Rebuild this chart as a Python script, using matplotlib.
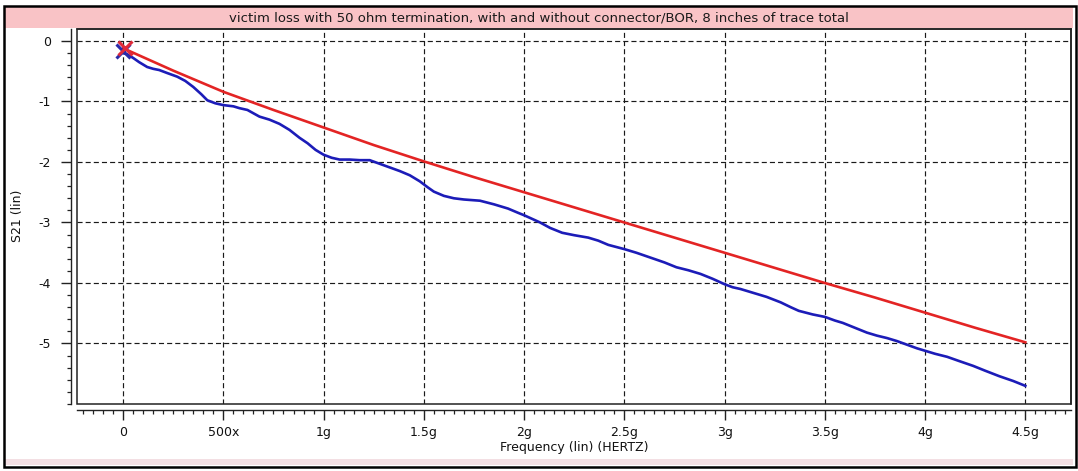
import matplotlib
matplotlib.use("Agg")
import matplotlib.pyplot as plt
from matplotlib.patches import Rectangle
from matplotlib.ticker import MultipleLocator

# Frequency in GHz, S21 (linear scale axis values)
freq_with = [0.00, 0.02, 0.05, 0.08, 0.12, 0.15, 0.18, 0.22, 0.27, 0.31, 0.35, 0.39,
             0.42, 0.46, 0.50, 0.55, 0.58, 0.62, 0.68, 0.73, 0.78, 0.83, 0.88, 0.92,
             0.96, 1.00, 1.04, 1.08, 1.13, 1.18, 1.23, 1.28, 1.33, 1.38, 1.43, 1.48,
             1.52, 1.55, 1.60, 1.65, 1.70, 1.78, 1.85, 1.92, 1.97, 2.00, 2.04, 2.08,
             2.13, 2.19, 2.25, 2.32, 2.37, 2.42, 2.50, 2.56, 2.63, 2.70, 2.76, 2.82,
             2.88, 2.94, 3.00, 3.04, 3.08, 3.14, 3.21, 3.28, 3.33, 3.37, 3.44, 3.50,
             3.55, 3.59, 3.65, 3.71, 3.76, 3.81, 3.86, 3.91, 3.96, 4.00, 4.05, 4.11,
             4.17, 4.24, 4.30, 4.37, 4.44, 4.50]
s21_with = [-0.20, -0.22, -0.28, -0.35, -0.43, -0.46, -0.48, -0.53, -0.59, -0.66, -0.76, -0.88,
            -0.98, -1.03, -1.06, -1.08, -1.11, -1.14, -1.25, -1.30, -1.37, -1.47, -1.60, -1.69,
            -1.80, -1.88, -1.93, -1.96, -1.96, -1.97, -1.97, -2.03, -2.09, -2.15, -2.22, -2.32,
            -2.42, -2.49, -2.56, -2.60, -2.62, -2.64, -2.70, -2.77, -2.84, -2.88, -2.94, -3.00,
            -3.09, -3.17, -3.21, -3.25, -3.30, -3.37, -3.44, -3.50, -3.58, -3.66, -3.74, -3.79,
            -3.85, -3.93, -4.02, -4.07, -4.10, -4.16, -4.23, -4.32, -4.40, -4.46, -4.52, -4.56,
            -4.62, -4.66, -4.74, -4.82, -4.87, -4.91, -4.96, -5.02, -5.08, -5.12, -5.17, -5.22,
            -5.29, -5.37, -5.45, -5.54, -5.62, -5.70]

freq_without = [0.00, 0.25, 0.50, 0.75, 1.00, 1.25, 1.50, 1.75, 2.00, 2.25,
                2.50, 2.75, 3.00, 3.25, 3.50, 3.75, 4.00, 4.25, 4.50]
s21_without = [-0.12, -0.49, -0.84, -1.14, -1.43, -1.72, -1.99, -2.25, -2.50, -2.75,
               -3.00, -3.25, -3.50, -3.75, -4.00, -4.24, -4.49, -4.74, -4.98]

x_ticks = [0.0, 0.5, 1.0, 1.5, 2.0, 2.5, 3.0, 3.5, 4.0, 4.5]
x_tick_labels = ["0", "500x", "1g", "1.5g", "2g", "2.5g", "3g", "3.5g", "4g", "4.5g"]
y_ticks = [0, -1, -2, -3, -4, -5]
y_tick_labels = ["0", "-1", "-2", "-3", "-4", "-5"]

title_text = "victim loss with 50 ohm termination, with and without connector/BOR, 8 inches of trace total"

W, H = 1078, 471
plt.rcParams["font.family"] = "DejaVu Sans"
fig = plt.figure(figsize=(W / 100, H / 100), dpi=100, facecolor="white")


def px_rect(x0, y0, x1, y1, **kw):
    """Rectangle given in pixel coordinates measured from the top-left corner."""
    return Rectangle((x0 / W, 1 - y1 / H), (x1 - x0) / W, (y1 - y0) / H,
                     transform=fig.transFigure, **kw)


# window frame, title strip and bottom strip
fig.patches.append(px_rect(5, 7, 1073, 28, facecolor="#f9c3c6", edgecolor="none", zorder=0))
fig.patches.append(px_rect(5, 459, 1073, 465, facecolor="#f3dfe3", edgecolor="none", zorder=0))
fig.patches.append(px_rect(3.5, 5.5, 1076, 466.5, facecolor="none", edgecolor="black",
                           linewidth=1.8, zorder=5))
fig.text(539 / W, 1 - 18 / H, title_text, ha="center", va="center", fontsize=9.5, color="#1a1a1a")

left, right, top, bottom = 77, 1071, 29, 404
ax = fig.add_axes([left / W, 1 - bottom / H, (right - left) / W, (bottom - top) / H])
ax.set_facecolor("white")
ax.set_xlim(-0.23, 4.728)
ax.set_ylim(-6.0, 0.198)

# grid
ax.set_xticks(x_ticks)
ax.set_xticklabels(x_tick_labels)
ax.set_yticks(y_ticks)
ax.set_yticklabels(y_tick_labels)
ax.xaxis.set_minor_locator(MultipleLocator(0.05))
ax.yaxis.set_minor_locator(MultipleLocator(0.2))
ax.grid(True, which="major", color="#1a1a1a", linestyle=(0, (4.3, 2.6)), linewidth=0.85)
ax.set_axisbelow(True)

# curves
ax.plot(freq_with, s21_with, color="#1c1cb8", linewidth=1.9, zorder=3)
ax.plot(freq_without, s21_without, color="#e32424", linewidth=1.9, zorder=4)
ax.plot([freq_with[0]], [s21_with[0] + 0.04], marker="x", markersize=10, markeredgewidth=2.2,
        color="#2a2aa8", zorder=5)
ax.plot([freq_without[0] + 0.01], [s21_without[0]], marker="x", markersize=10,
        markeredgewidth=2.2, color="#e02a3a", zorder=6)

# plot box plus offset scale axes
for s in ["top", "right"]:
    ax.spines[s].set_linewidth(1.1)
    ax.spines[s].set_color("#222222")
for s in ["left", "bottom"]:
    ax.spines[s].set_position(("outward", 4.3))
    ax.spines[s].set_linewidth(1.0)
    ax.spines[s].set_color("#222222")
ax.add_patch(Rectangle((0, 0), 1, 1, transform=ax.transAxes, fill=False,
                       edgecolor="#222222", linewidth=1.1, zorder=7, clip_on=False))

ax.tick_params(axis="both", which="major", direction="out", length=7, width=1.0,
               color="#222222", labelsize=9, labelcolor="#111111")
ax.tick_params(axis="both", which="minor", direction="out", length=2.6, width=0.9,
               color="#222222")
ax.tick_params(axis="x", which="major", pad=4.5)
ax.tick_params(axis="y", which="major", pad=7.5)

ax.set_xlabel("Frequency (lin) (HERTZ)", fontsize=9, color="#111111", labelpad=1.5)
fig.text(17 / W, 1 - 216 / H, "S21 (lin)", rotation=90, ha="center", va="center",
         fontsize=9, color="#111111")

fig.savefig("out.png", dpi=100, facecolor="white")
